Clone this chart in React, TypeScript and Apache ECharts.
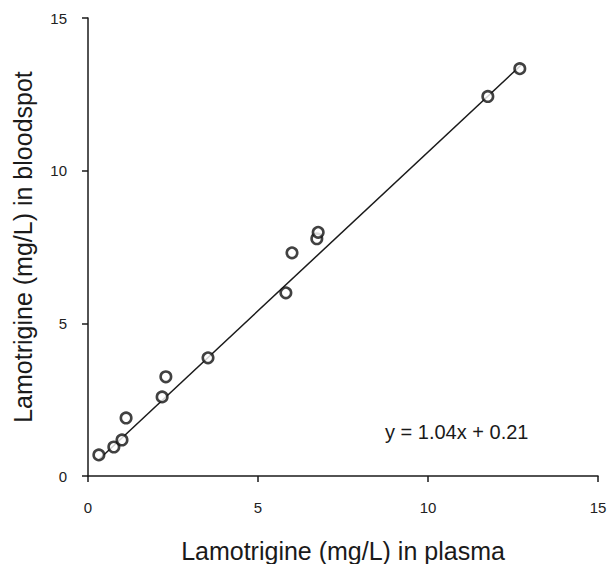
import React, { useEffect, useRef } from "react";
import * as echarts from "echarts";

const plasma = [0.32, 0.76, 1.0, 1.12, 2.18, 2.29, 3.53, 5.82, 6.0, 6.73, 6.77, 11.76, 12.7];
const bloodspot = [0.69, 0.95, 1.18, 1.9, 2.59, 3.25, 3.87, 6.0, 7.31, 7.77, 7.98, 12.43, 13.34];
const slope = 1.04;
const intercept = 0.21;
const fitRange = [0.32, 12.75];
const ticks = [0, 5, 10, 15];
const equationLabel = "y = 1.04x + 0.21";
const xTitle = "Lamotrigine (mg/L) in plasma";
const yTitle = "Lamotrigine (mg/L) in bloodspot";

export default function App() {
  const ref = useRef<HTMLDivElement>(null);
  useEffect(() => {
    if (!ref.current) return;
    const chart = echarts.init(ref.current, undefined, { renderer: "svg", width: 609, height: 564 });
    const axisCommon = {
      type: "value",
      min: ticks[0],
      max: ticks[ticks.length - 1],
      interval: 5,
      splitLine: { show: false },
      axisLine: { show: true, lineStyle: { color: "#1a1a1a", width: 1.5 } },
      axisTick: { show: true, length: 6, lineStyle: { color: "#1a1a1a", width: 1.5 } },
      nameLocation: "middle",
      nameTextStyle: { fontFamily: "Liberation Sans", fontSize: 25, color: "#1a1a1a" },
    };
    chart.setOption({
      animation: false,
      backgroundColor: "#ffffff",
      grid: { left: 88, right: 11, top: 18, bottom: 88, containLabel: false, outerBoundsMode: "none" },
      xAxis: {
        ...axisCommon,
        name: xTitle,
        nameGap: 62,
        axisLabel: { margin: 24, fontFamily: "Liberation Sans", fontSize: 15, color: "#222" },
      },
      yAxis: {
        ...axisCommon,
        name: yTitle,
        nameGap: 53,
        axisLabel: { margin: 21, fontFamily: "Liberation Sans", fontSize: 15, color: "#222" },
      },
      series: [
        {
          type: "line",
          data: fitRange.map((x) => [x, slope * x + intercept]),
          symbol: "none",
          lineStyle: { color: "#1a1a1a", width: 1.5 },
          z: 1,
        },
        {
          type: "scatter",
          data: plasma.map((x, i) => [x, bloodspot[i]]),
          symbol: "circle",
          symbolSize: 10.5,
          itemStyle: { color: "#ffffff", borderColor: "#111", borderWidth: 2.6 },
          z: 2,
        },
      ],
      graphic: [
        {
          type: "text",
          left: 385,
          top: 422,
          style: {
            text: equationLabel,
            fontFamily: "Liberation Sans",
            fontSize: 20,
            fill: "#1a1a1a",
          },
        },
      ],
    });
    return () => chart.dispose();
  }, []);
  return (
    <div
      ref={ref}
      style={{ position: "absolute", left: 0, top: 0, width: 609, height: 564, overflow: "hidden" }}
    />
  );
}
